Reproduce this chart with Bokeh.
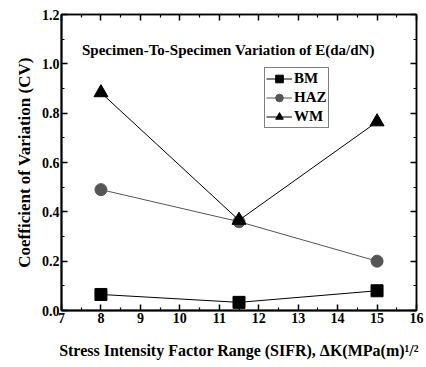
from bokeh.plotting import figure
from bokeh.models import Range1d, FixedTicker, LinearAxis, CustomJSTickFormatter
from bokeh.models import Label
from bokeh.embed import file_html
from bokeh.resources import INLINE

x_vals = [8, 11.5, 15]
bm = [0.065, 0.033, 0.080]
haz = [0.490, 0.360, 0.200]
wm = [0.883, 0.366, 0.765]

x_ticks = [7, 8, 9, 10, 11, 12, 13, 14, 15, 16]
x_minor = [7.5, 8.5, 9.5, 10.5, 11.5, 12.5, 13.5, 14.5, 15.5]
y_ticks = [0.0, 0.2, 0.4, 0.6, 0.8, 1.0, 1.2]
y_minor = [0.1, 0.3, 0.5, 0.7, 0.9, 1.1]

FONT = "Liberation Serif"

p = figure(width=426, height=367, output_backend="svg", toolbar_location=None,
           x_range=Range1d(7, 16), y_range=Range1d(0, 1.2),
           min_border_left=61, min_border_right=10, min_border_top=14, min_border_bottom=57,
           x_axis_location=None, y_axis_location=None)
p.grid.visible = False
p.outline_line_color = "black"
p.outline_line_width = 1.5
p.background_fill_color = "white"
p.border_fill_color = "white"

def tick_axis(ticks, minor, lw):
    ax = LinearAxis(ticker=FixedTicker(ticks=ticks, minor_ticks=minor))
    ax.major_tick_in = 6
    ax.major_tick_out = 0
    ax.minor_tick_in = 3
    ax.minor_tick_out = 0
    ax.axis_line_color = "black"
    ax.axis_line_width = lw
    ax.major_tick_line_color = "black"
    ax.minor_tick_line_color = "black"
    ax.major_tick_line_width = 1.5
    ax.minor_tick_line_width = 1.2
    ax.formatter = CustomJSTickFormatter(code="return '';")
    ax.major_label_text_font_size = "1px"
    ax.major_label_standoff = 0
    return ax

def label_axis(ticks):
    ax = LinearAxis(ticker=FixedTicker(ticks=ticks))
    ax.axis_line_color = None
    ax.major_tick_line_color = None
    ax.minor_tick_line_color = None
    ax.major_tick_in = 0
    ax.major_tick_out = 0
    ax.minor_tick_in = 0
    ax.minor_tick_out = 0
    ax.major_label_text_font = FONT
    ax.major_label_text_font_style = "bold"
    ax.major_label_text_font_size = "14px"
    ax.major_label_text_color = "black"
    ax.major_label_standoff = 2
    return ax

# tick-carrying axes on all four sides (added first -> closest to the frame)
p.add_layout(tick_axis(x_ticks, x_minor, 2), "below")
p.add_layout(tick_axis(y_ticks, y_minor, 2), "left")
p.add_layout(tick_axis(x_ticks, x_minor, 1.5), "above")
p.add_layout(tick_axis(y_ticks, y_minor, 1.5), "right")

xb = label_axis(x_ticks)
xb.axis_label = "Stress Intensity Factor Range (SIFR), \u0394K(MPa(m)\u00b9/\u00b2"
xb.axis_label_text_font = FONT
xb.axis_label_text_font_style = "bold"
xb.axis_label_text_font_size = "16px"
xb.axis_label_text_color = "black"
xb.axis_label_standoff = 16

yl = label_axis(y_ticks)
yl.formatter = CustomJSTickFormatter(code="return tick.toFixed(1);")
yl.axis_label = "Coefficient of Variation (CV)"
yl.axis_label_text_font = FONT
yl.axis_label_text_font_style = "bold"
yl.axis_label_text_font_size = "17px"
yl.axis_label_text_color = "black"
yl.axis_label_standoff = 5

p.add_layout(xb, "below")
p.add_layout(yl, "left")

p.line(x_vals, bm, line_color="black", line_width=1, legend_label="BM")
p.scatter(x_vals, bm, marker="square", size=12, fill_color="black", line_color="black", legend_label="BM")
p.line(x_vals, haz, line_color="#555555", line_width=1, legend_label="HAZ")
p.scatter(x_vals, haz, marker="circle", size=12, fill_color="#555555", line_color="#555555", legend_label="HAZ")
p.line(x_vals, wm, line_color="black", line_width=1, legend_label="WM")
p.scatter(x_vals, wm, marker="triangle", size=14, fill_color="black", line_color="black", legend_label="WM")

lg = p.legend[0]
lg.location = (203, 182)
lg.border_line_color = "black"
lg.border_line_width = 1
lg.label_text_font = FONT
lg.label_text_font_style = "bold"
lg.label_text_font_size = "15px"
lg.label_text_color = "black"
lg.label_height = 19
lg.glyph_height = 19
lg.glyph_width = 26
lg.spacing = 0
lg.padding = 1
lg.margin = 0
lg.label_standoff = 2
lg.background_fill_alpha = 1

p.add_layout(Label(x=11.23, y=1.058, text="Specimen-To-Specimen Variation of E(da/dN)",
                   text_font=FONT, text_font_style="bold", text_font_size="15px",
                   text_color="black", text_align="center", text_baseline="middle"))

open("out.html", "w").write(file_html(p, INLINE))
